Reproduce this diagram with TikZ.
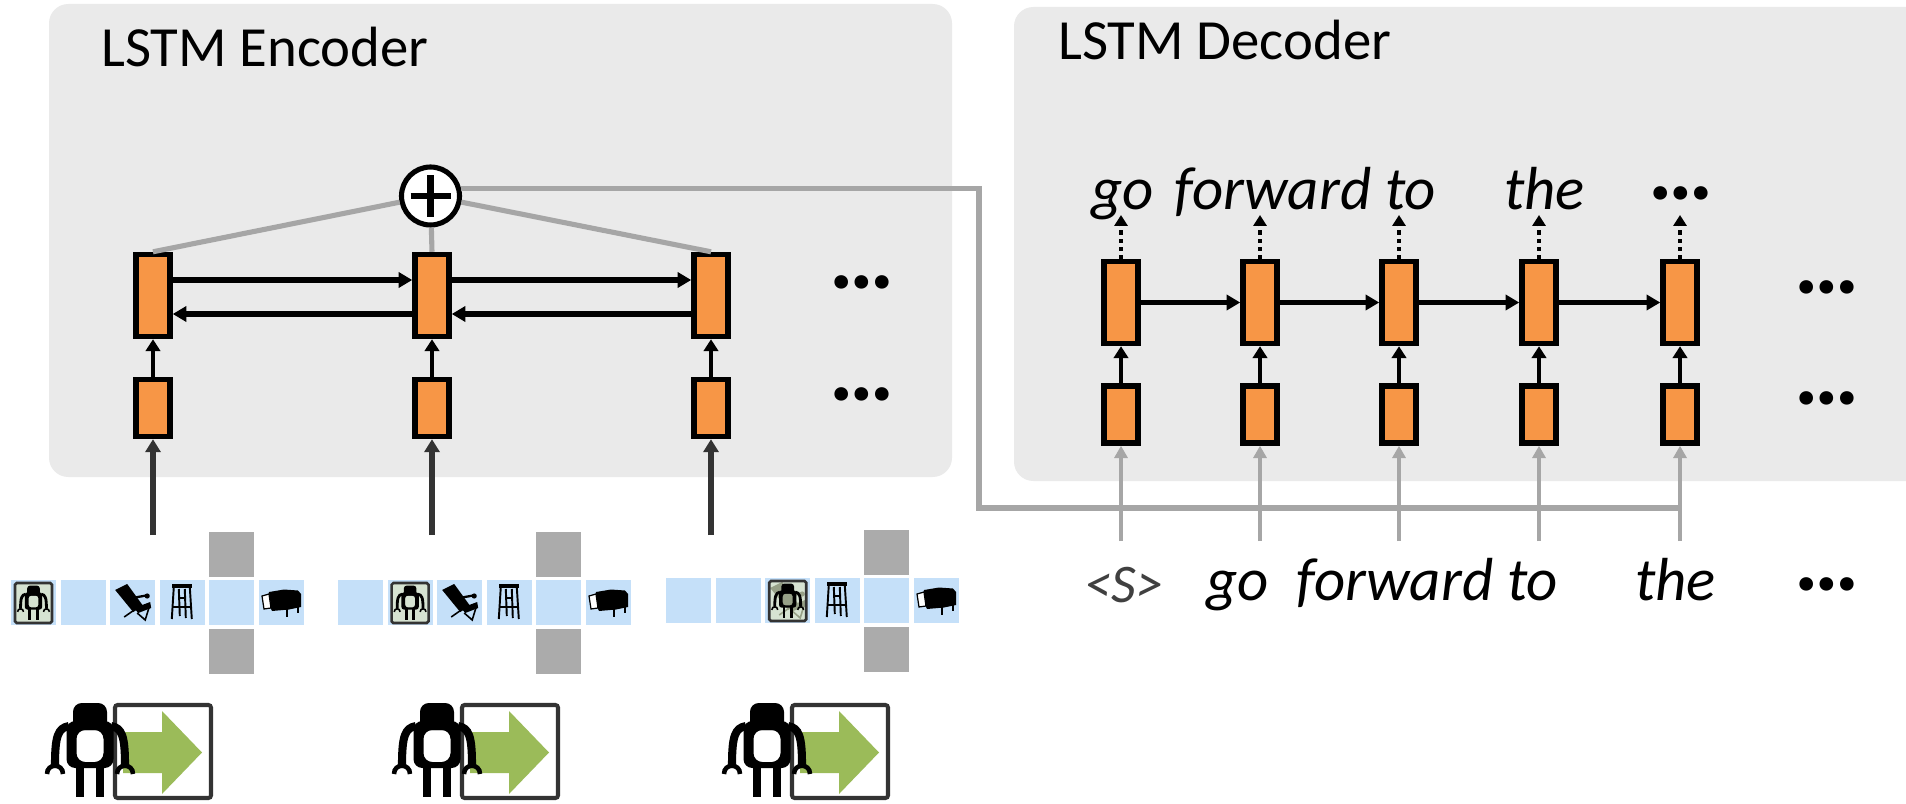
\documentclass[tikz,border=0pt]{standalone}
\usepackage{fontspec}
\setmainfont{Carlito}
\usetikzlibrary{arrows.meta}

\definecolor{panel}{RGB}{234,234,234}
\definecolor{cellfill}{RGB}{247,150,70}
\definecolor{link}{RGB}{166,166,166}
\definecolor{inblue}{RGB}{197,224,249}
\definecolor{wall}{RGB}{171,171,171}
\definecolor{gogreen}{RGB}{155,187,89}
\definecolor{framebg}{RGB}{214,227,210}
\definecolor{ink}{RGB}{51,51,51}
\definecolor{shade}{RGB}{150,160,135}
\definecolor{tokgray}{RGB}{64,64,64}

\tikzset{
  lstm/.style={draw=black, fill=cellfill, line width=3.1pt, inner sep=0pt,
    minimum width=0.68cm, minimum height=1.64cm},
  lstmin/.style={lstm, minimum height=1.14cm},
  flow/.style={line width=3pt, -{Triangle[length=7.8pt,width=8.6pt]}},
  feed/.style={line width=2.7pt, -{Triangle[length=6.8pt,width=8.2pt]}},
  emit/.style={line width=2.5pt, dash pattern=on 2.3pt off 2.3pt,
    -{Triangle[length=6.2pt,width=7.4pt]}},
  glink/.style={draw=link, line width=2.9pt},
  ginput/.style={draw=link, line width=2.5pt, -{Triangle[length=7pt,width=7.4pt,fill=link]}},
  einput/.style={draw=ink, line width=2.9pt, -{Triangle[length=7.4pt,width=8.6pt,fill=ink]}},
  title/.style={anchor=base west, inner sep=0pt, font=\fontsize{32.3pt}{38pt}\selectfont},
  word/.style={anchor=base west, inner sep=0pt, font=\fontsize{34.6pt}{40pt}\selectfont\itshape},
  dots/.style={anchor=base, inner sep=0pt, font=\fontsize{52pt}{60pt}\selectfont\bfseries},
  bigbot/.style={/utils/exec={\def\rcr{5pt}\def\rarm{4.6pt}\def\rhand{2.6pt}}},
  minibot/.style={scale=0.37, /utils/exec={\def\rcr{1.6pt}\def\rarm{1.6pt}\def\rhand{0.9pt}}},
  % robot silhouette, centred on its body
  robot/.pic={
    \fill[rounded corners=\rcr] (-17,-47) rectangle (17,-20);
    \fill[even odd rule, rounded corners=\rcr] (-23.5,-29) rectangle (23.5,18)
      (-13.5,-20) rectangle (13.5,12);
    \draw[line width=\rarm] (-21,-24) .. controls (-32,-22) and (-35,-14) .. (-35,15);
    \draw[line width=\rarm] (21,-24) .. controls (32,-22) and (35,-14) .. (35,15);
    \draw[line width=\rhand] (-43,24) .. controls (-43,13) and (-27,13) .. (-27,24);
    \draw[line width=\rhand] (27,24) .. controls (27,13) and (43,13) .. (43,24);
    \fill (-14,17) rectangle (-6,47);
    \fill (6,17) rectangle (14,47);
  },
  % framed green "move forward" sign
  exitsign/.pic={
    \fill[gogreen] (10,29) -- (49,29) -- (49,8) -- (89,49.5) -- (49,91) -- (49,70) -- (10,70) -- cycle;
    \draw[ink, line width=2.3pt, rounded corners=1.5pt] (2,2) rectangle (98,95);
  },
  % one row of six view cells plus the two wall cells
  board/.pic={
    \foreach \k in {0,...,5} \fill[inblue] (\k*49.6,0) rectangle ++(45,45);
    \fill[wall] (4*49.6,-48) rectangle ++(45,45);
    \fill[wall] (4*49.6,49) rectangle ++(45,45);
  },
  chair/.pic={
    \fill (5,10) -- (17,4) -- (33,26) -- (23,32) -- cycle;
    \draw[line width=1.3pt] (22,18) -- (36,15.5);
    \fill (37,16) circle[radius=2.6];
    \fill (24,28) -- (40,22) -- (41,28) -- (28,33) -- cycle;
    \draw[line width=0.9pt] (14,37) -- (24,30) (27,33) -- (35,40) -- (39,27);
  },
  stool/.pic={
    \fill (12,3.5) rectangle (32,7.5);
    \draw[line width=1.1pt] (14,7) -- (12,39) (30,7) -- (32,39) (19,9) -- (20,36)
      (25,9) -- (26,38) (13,27) -- (31,27) (19,18) -- (25,18);
  },
  sofa/.pic={
    \fill (10,12) -- (25,9.5) -- (39,10.5) -- (42,14) -- (42,27) -- (30,29.5) -- (13,31) -- (8,20) -- cycle;
    \filldraw[fill=white, line width=0.7pt] (3,16) -- (10,14) -- (12,28) -- (5,29) -- cycle;
    \draw[line width=1.3pt] (28,29) -- (28,37) (39,27) -- (39,33);
  },
  frameicon/.pic={
    \filldraw[fill=framebg, draw=ink, line width=1.5pt, rounded corners=1pt] (4,3) rectangle (41,43);
    \pic[minibot] at (22.5,23) {robot};
  },
  ghosticon/.pic={
    \fill[framebg] (4,3) rectangle (41,43);
    \pic[color=shade] at (0,0) {chair};
    \pic[minibot] at (22.5,23) {robot};
    \draw[ink, line width=1.5pt, rounded corners=1pt] (4,3) rectangle (41,43);
  },
}

\begin{document}
\begin{tikzpicture}[x=0.02cm, y=-0.02cm]
\useasboundingbox (0,0) rectangle (1906,804);
\fill[white] (0,0) rectangle (1906,804);

% panels
\fill[panel, rounded corners=11pt] (49,4) rectangle (952,477);
\fill[panel, rounded corners=11pt] (1014,7) rectangle (1960,481);
\node[title] (enctitle) at (101,67) {LSTM Encoder};
\node[title] (dectitle) at (1058,60) {LSTM Decoder};

% ---------------- encoder ----------------
\foreach \n/\x in {1/153, 2/432, 3/711} {
  \node[lstm] (e\n t) at (\x,295.5) {};
  \node[lstmin] (e\n b) at (\x,408) {};
  \coordinate (i\n) at (\x,535);
}
\node[dots] (edots1) at (862,288) {…};
\node[dots] (edots2) at (862,400) {…};

\draw[flow] (e1t.east |- 0,280) -- (e2t.west |- 0,280);
\draw[flow] (e2t.east |- 0,280) -- (e3t.west |- 0,280);
\draw[flow] (e3t.west |- 0,314) -- (e2t.east |- 0,314);
\draw[flow] (e2t.west |- 0,314) -- (e1t.east |- 0,314);
\foreach \n in {1,2,3} {
  \draw[feed] (e\n b) -- (e\n t);
  \draw[einput] (i\n) -- (e\n b);
}

% pooling of the encoder states
\node[circle, draw, fill=white, line width=2.9pt, minimum size=1.16cm, inner sep=0pt] (sum) at (430.5,196) {};
\draw[line width=3.8pt] ([xshift=-0.4cm]sum.center) -- ([xshift=0.4cm]sum.center);
\draw[line width=3.8pt] ([yshift=-0.42cm]sum.center) -- ([yshift=0.42cm]sum.center);
\draw[glink] (sum) -- (e1t.north);
\draw[glink] (sum) -- (e2t.north);
\draw[glink] (sum) -- (e3t.north);

% ---------------- decoder ----------------
\foreach \n/\x in {1/1121, 2/1260, 3/1399, 4/1539, 5/1680} {
  \node[lstm] (d\n t) at (\x,302.5) {};
  \node[lstmin] (d\n b) at (\x,414.5) {};
  \coordinate (o\n) at (\x,215);
  \coordinate (j\n) at (\x,541);
  \draw[feed] (d\n b) -- (d\n t);
  \draw[emit] (d\n t.north) -- (o\n);
  \draw[ginput] (j\n) -- (d\n b);
}
\foreach \a/\b in {1/2, 2/3, 3/4, 4/5} \draw[flow] (d\a t) -- (d\b t);
\node[dots] (ddots1) at (1827,293) {…};
\node[dots] (ddots2) at (1827,404) {…};

% context vector fed to every decoder step
\coordinate (tap) at (979,508);
\draw[glink] (sum.13) -| (tap) -- (j5 |- tap);

% output words
\node[word] (out1) at (1091,210) {go};
\node[word] (out2) at (1174,210) {forward to};
\node[word] (out3) at (1504,210) {the};
\node[dots] (out4) at (1681,200) {…};

% input words
\node[word, font=\fontsize{31pt}{36pt}\selectfont\itshape, text=tokgray] (in0) at (1084,602) {<S>};
\node[word] (in1) at (1206,600) {go};
\node[word] (in2) at (1296,600) {forward to};
\node[word] (in3) at (1635,600) {the};
\node[dots] (in4) at (1827,590) {…};

% ---------------- observation grids ----------------
\pic at (11,580) {board};
\pic at (11,580) {frameicon};
\pic at (11+2*49.6,580) {chair};
\pic at (11+3*49.6,580) {stool};
\pic at (11+5*49.6,580) {sofa};

\pic at (338,580) {board};
\pic at (338+49.6,580) {frameicon};
\pic at (338+2*49.6,580) {chair};
\pic at (338+3*49.6,580) {stool};
\pic at (338+5*49.6,580) {sofa};

\pic at (666,578) {board};
\pic at (666+2*49.6,578) {ghosticon};
\pic at (666+3*49.6,578) {stool};
\pic at (666+5*49.6,578) {sofa};

% ---------------- actions ----------------
\foreach \sx/\rx in {113/90, 460/437, 790/767} {
  \pic at (\sx,703) {exitsign};
  \pic[bigbot] at (\rx,750) {robot};
}
\end{tikzpicture}
\end{document}
